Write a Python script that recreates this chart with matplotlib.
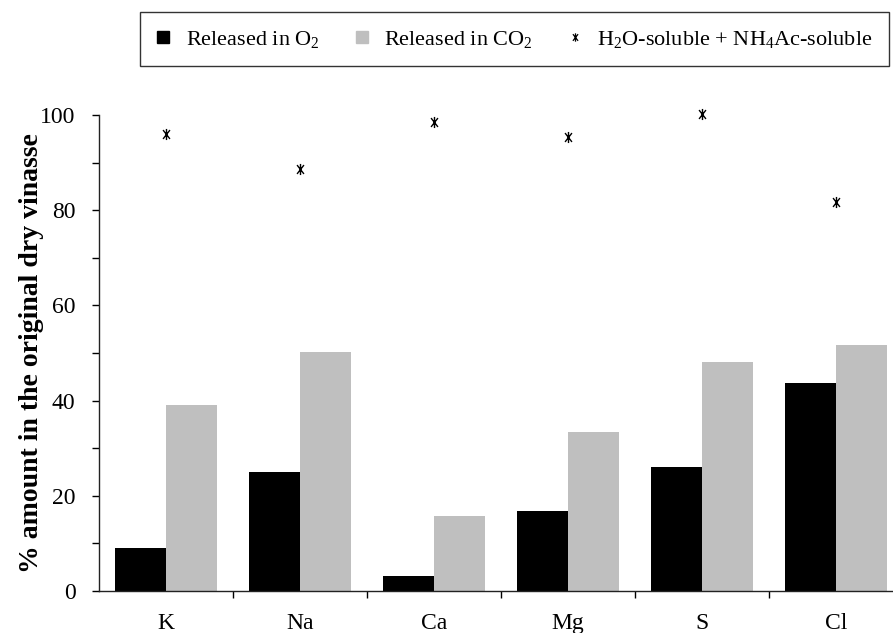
import matplotlib
matplotlib.use("Agg")
import matplotlib.pyplot as plt
import numpy as np
from matplotlib.lines import Line2D
from matplotlib.path import Path
from matplotlib.ticker import MultipleLocator, FixedLocator

plt.rcParams['font.family'] = ['Liberation Serif', 'DejaVu Serif']
plt.rcParams['mathtext.default'] = 'regular'

# elements and their release / solubility (% of original dry vinasse)
elements = ['K', 'Na', 'Ca', 'Mg', 'S', 'Cl']
released_o2 = [9.1, 25.0, 3.1, 16.8, 26.0, 43.7]
released_co2 = [39.1, 50.2, 15.8, 33.4, 48.2, 51.7]
soluble = [96.1, 88.7, 98.6, 95.4, 100.2, 81.8]

GREY = '#bfbfbf'

# vertical bar crossed by a steep X
star = Path([(0, -1), (0, 1), (-0.62, -0.8), (0.62, 0.8),
             (-0.62, 0.8), (0.62, -0.8)],
            [Path.MOVETO, Path.LINETO] * 3)

fig = plt.figure(figsize=(8.93, 6.33), dpi=100)
ax = fig.add_axes([99 / 893, 42 / 633, 804 / 893, 476 / 633])

x = np.arange(len(elements))
w = 0.38
ax.bar(x - w / 2, released_o2, width=w, color='black', linewidth=0)
ax.bar(x + w / 2, released_co2, width=w, color=GREY, linewidth=0)
ax.plot(x, soluble, linestyle='none', marker=star, markersize=8,
        markeredgewidth=1.0, markerfacecolor='none', color='black',
        clip_on=False)

ax.set_xlim(-0.5, 5.5)
ax.set_ylim(0, 100)

ax.yaxis.set_major_locator(MultipleLocator(20))
ax.yaxis.set_minor_locator(MultipleLocator(10))
ax.tick_params(axis='y', which='both', direction='out', length=5,
               width=1, labelsize=17, pad=12)

# category boundaries get the tick marks, names sit between them
ax.xaxis.set_major_locator(FixedLocator(x[:-1] + 0.5))
ax.xaxis.set_minor_locator(FixedLocator(x))
ax.set_xticklabels([''] * (len(elements) - 1))
ax.set_xticklabels(elements, minor=True)
ax.tick_params(axis='x', which='major', direction='out', length=5, width=1)
ax.tick_params(axis='x', which='minor', length=0, labelsize=17, pad=16)

for side in ('top', 'right'):
    ax.spines[side].set_visible(False)
for side in ('left', 'bottom'):
    ax.spines[side].set_linewidth(1)
    ax.spines[side].set_color('#222222')

ax.set_ylabel('% amount in the original dry vinasse', fontsize=20,
              fontweight='bold', va='center')
ax.yaxis.set_label_coords(-67 / 804, 0.5)

handles = [
    Line2D([], [], linestyle='none', marker='s', markersize=9,
           color='black'),
    Line2D([], [], linestyle='none', marker='s', markersize=9,
           color=GREY),
    Line2D([], [], linestyle='none', marker=star, markersize=6,
           markeredgewidth=0.9, markerfacecolor='none', color='black'),
]
labels = ['Released in O$_2$', 'Released in CO$_2$',
          'H$_2$O-soluble + NH$_4$Ac-soluble']
leg = fig.legend(handles, labels, loc='upper left',
                 bbox_to_anchor=(140 / 893, 1 - 12 / 633), ncol=3,
                 fontsize=16, frameon=True, fancybox=False,
                 edgecolor='black', handlelength=0.6, handletextpad=0.7,
                 columnspacing=1.6, borderpad=0.75, borderaxespad=0)
leg.get_frame().set_linewidth(1)

fig.savefig('out.png', dpi=100)
